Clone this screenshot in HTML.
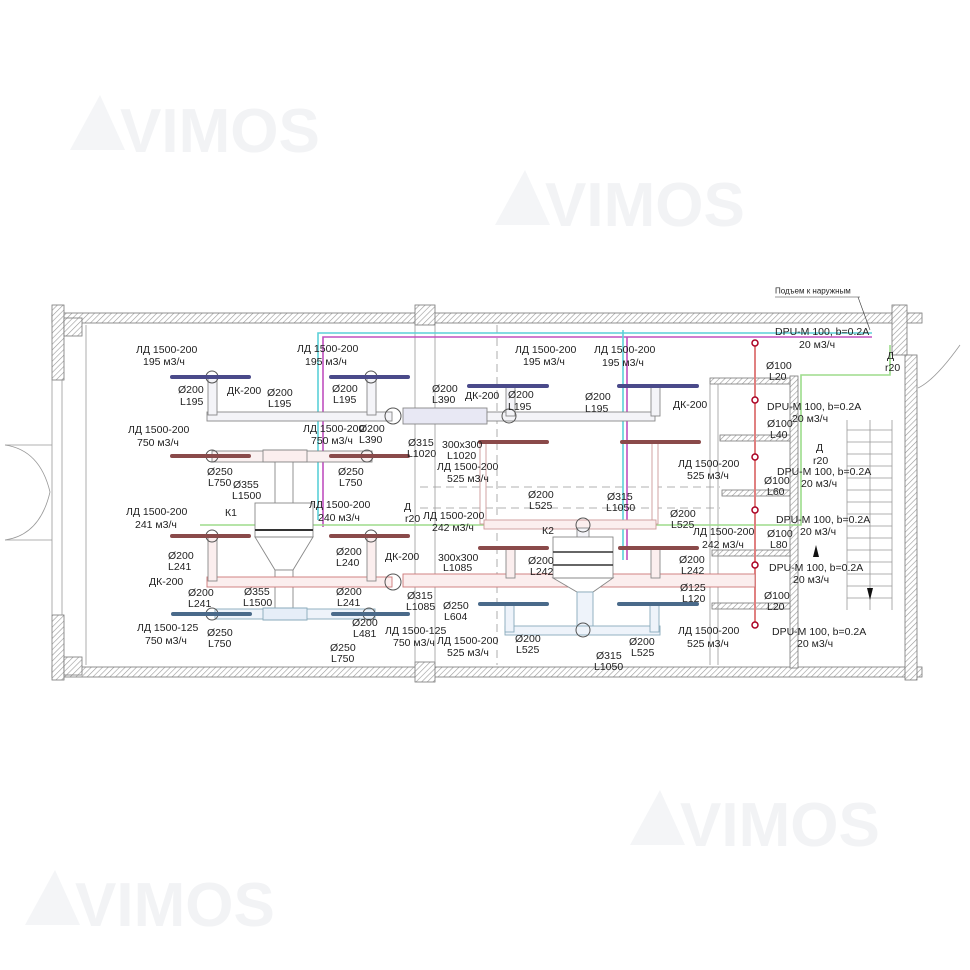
<!DOCTYPE html>
<html><head><meta charset="utf-8"><style>
html,body{margin:0;padding:0;background:#fff;}
svg{display:block}
text{font-family:"Liberation Sans",sans-serif;font-size:10.5px;fill:#222;dominant-baseline:central}
.wm{font-size:62px;fill:#f2f3f5;font-weight:bold;dominant-baseline:auto}
</style></head><body>
<svg width="970" height="970" viewBox="0 0 970 970" xmlns="http://www.w3.org/2000/svg">
<defs>
<pattern id="h" width="4" height="4" patternUnits="userSpaceOnUse" patternTransform="rotate(45)"><rect width="4" height="4" fill="#fff"/><line x1="0" y1="0" x2="0" y2="4" stroke="#999" stroke-width="1.2"/></pattern>
</defs>
<g>
<polygon points="70,150 100,95 125,150" fill="#f4f5f7"/><text class="wm" x="120" y="152">VIMOS</text>
<polygon points="495,225 525,170 550,225" fill="#f4f5f7"/><text class="wm" x="545" y="226">VIMOS</text>
<polygon points="630,845 660,790 685,845" fill="#f4f5f7"/><text class="wm" x="680" y="846">VIMOS</text>
<polygon points="25,925 55,870 80,925" fill="#f4f5f7"/><text class="wm" x="75" y="926">VIMOS</text>
</g>
<g stroke="#777" stroke-width="0.8">
<rect x="52" y="313" width="870" height="10" fill="url(#h)"/>
<rect x="52" y="667" width="870" height="10" fill="url(#h)"/>
<rect x="52" y="305" width="12" height="75" fill="url(#h)"/>
<rect x="52" y="615" width="12" height="65" fill="url(#h)"/>
<rect x="64" y="318" width="18" height="18" fill="url(#h)"/>
<rect x="64" y="657" width="18" height="18" fill="url(#h)"/>
<rect x="415" y="305" width="20" height="20" fill="url(#h)"/>
<rect x="415" y="662" width="20" height="20" fill="url(#h)"/>
<rect x="892" y="305" width="15" height="50" fill="url(#h)"/>
<rect x="905" y="355" width="12" height="325" fill="url(#h)"/>
<rect x="790" y="376" width="8" height="292" fill="url(#h)"/>
<rect x="710" y="378" width="80" height="6" fill="url(#h)"/>
<rect x="720" y="435" width="70" height="6" fill="url(#h)"/>
<rect x="722" y="490" width="68" height="6" fill="url(#h)"/>
<rect x="712" y="550" width="78" height="6" fill="url(#h)"/>
<rect x="712" y="603" width="78" height="6" fill="url(#h)"/>
</g>
<g fill="none" stroke="#999" stroke-width="0.8">
<line x1="52" y1="380" x2="52" y2="615"/><line x1="62" y1="380" x2="62" y2="615"/>
<line x1="86" y1="325" x2="86" y2="665"/>
<line x1="415" y1="325" x2="415" y2="662"/><line x1="435" y1="325" x2="435" y2="662"/>
<path d="M5,445 Q40,450 50,492 Q40,535 5,540"/><line x1="5" y1="445" x2="52" y2="445"/><line x1="5" y1="540" x2="52" y2="540"/>
<path d="M960,345 Q935,380 918,388"/>
<line x1="847" y1="420" x2="847" y2="610"/><line x1="892" y1="420" x2="892" y2="610"/><line x1="870" y1="420" x2="870" y2="610"/>
<path d="M847,430h45M847,442h45M847,454h45M847,466h45M847,478h45M847,490h45M847,502h45M847,514h45M847,526h45M847,538h45M847,550h45M847,562h45M847,574h45M847,586h45M847,598h45"/>
<line x1="710" y1="384" x2="710" y2="665"/><line x1="718" y1="384" x2="718" y2="665"/>
</g>
<g stroke="#999" stroke-dasharray="8,5" fill="none" stroke-width="0.8">
<path d="M420,487H720M420,508H720"/><line x1="497" y1="325" x2="497" y2="665"/>
</g>
<g fill="none" stroke-width="1.6">
<path d="M318,520V333H872" stroke="#5cd0d8"/>
<path d="M323,527V337H872" stroke="#c050c0"/>
<path d="M623,560V330" stroke="#5cd0d8"/>
<path d="M627,560V337" stroke="#c050c0"/>
<path d="M200,525H801V375H890V345" stroke="#9ddc8c"/>
<path d="M755,343V625" stroke="#e08080" stroke-width="2"/>
</g>
<g fill="#fff" stroke="#a02" stroke-width="1.5">
<circle cx="755" cy="343" r="3"/><circle cx="755" cy="400" r="3"/><circle cx="755" cy="457" r="3"/><circle cx="755" cy="510" r="3"/><circle cx="755" cy="565" r="3"/><circle cx="755" cy="625" r="3"/>
</g>
<g stroke="#888" stroke-width="0.9" fill="#f4f4f8">
<rect x="207" y="412" width="185" height="9"/>
<rect x="403" y="408" width="84" height="16" fill="#e8e8f4"/>
<rect x="487" y="412" width="168" height="9"/>
<rect x="208" y="377" width="9" height="38"/><rect x="367" y="377" width="9" height="38"/>
<rect x="506" y="386" width="9" height="30"/><rect x="651" y="386" width="9" height="30"/>
<rect x="212" y="451" width="160" height="11" fill="#faf0f0"/>
<path d="M263,450h44v12h-44z" fill="#fbeeee"/>
<rect x="275" y="462" width="18" height="43" fill="#fff"/>
<rect x="255" y="503" width="58" height="34" fill="#fff"/>
<path d="M255,537H313L293,570H275Z" fill="#fff"/>
<rect x="275" y="570" width="18" height="44" fill="#fff"/>
<rect x="207" y="577" width="185" height="10" fill="#fbeeee" stroke="#c77"/>
<rect x="403" y="574" width="352" height="13" fill="#fbeeee" stroke="#c77"/>
<rect x="208" y="536" width="9" height="45" fill="#fbeeee"/>
<rect x="367" y="536" width="9" height="45" fill="#fbeeee"/>
<rect x="506" y="548" width="9" height="30" fill="#fbeeee"/><rect x="651" y="548" width="9" height="30" fill="#fbeeee"/>
<rect x="215" y="609" width="160" height="10" fill="#eef3fa" stroke="#8ab"/>
<path d="M263,608h44v12h-44z" fill="#e6eef8" stroke="#8ab"/>
<rect x="480" y="442" width="6" height="82" fill="#fff" stroke="#c99"/>
<rect x="652" y="442" width="6" height="82" fill="#fff" stroke="#c99"/>
<rect x="484" y="520" width="172" height="9" fill="#fbeeee" stroke="#c99"/>
<rect x="577" y="528" width="12" height="10"/>
<rect x="553" y="537" width="60" height="41" fill="#fff"/>
<path d="M553,578H613L593,592H577Z" fill="#fff"/>
<rect x="577" y="592" width="16" height="36" fill="#eef3fa" stroke="#8ab"/>
<rect x="505" y="626" width="155" height="9" fill="#eef3fa" stroke="#8ab"/>
<rect x="505" y="604" width="9" height="28" fill="#eef3fa" stroke="#8ab"/><rect x="650" y="604" width="9" height="28" fill="#eef3fa" stroke="#8ab"/>
</g>
<g fill="none" stroke="#555" stroke-width="1">
<circle cx="393" cy="416" r="8"/><circle cx="393" cy="582" r="8"/><circle cx="509" cy="416" r="7"/>
<circle cx="583" cy="525" r="7"/><circle cx="583" cy="630" r="7"/>
<circle cx="212" cy="377" r="6"/><circle cx="371" cy="377" r="6"/><circle cx="212" cy="456" r="6"/><circle cx="367" cy="456" r="6"/>
<circle cx="212" cy="536" r="6"/><circle cx="371" cy="536" r="6"/><circle cx="212" cy="614" r="6"/><circle cx="369" cy="614" r="6"/>
<line x1="255" y1="530" x2="313" y2="530" stroke="#333" stroke-width="2"/>
<line x1="553" y1="552" x2="613" y2="552" stroke="#333" stroke-width="1.5"/><line x1="553" y1="565" x2="613" y2="565" stroke="#333" stroke-width="1.5"/>
</g>
<g stroke-width="4" stroke-linecap="round">
<g stroke="#4a4a8a"><line x1="172" y1="377" x2="249" y2="377"/><line x1="331" y1="377" x2="408" y2="377"/><line x1="469" y1="386" x2="547" y2="386"/><line x1="619" y1="386" x2="697" y2="386"/></g>
<g stroke="#8a4a4a"><line x1="172" y1="456" x2="249" y2="456"/><line x1="331" y1="456" x2="408" y2="456"/><line x1="480" y1="442" x2="547" y2="442"/><line x1="622" y1="442" x2="699" y2="442"/>
<line x1="172" y1="536" x2="249" y2="536"/><line x1="331" y1="536" x2="408" y2="536"/><line x1="480" y1="548" x2="547" y2="548"/><line x1="620" y1="548" x2="697" y2="548"/></g>
<g stroke="#4a6a8a"><line x1="173" y1="614" x2="250" y2="614"/><line x1="333" y1="614" x2="408" y2="614"/><line x1="480" y1="604" x2="547" y2="604"/><line x1="619" y1="604" x2="697" y2="604"/></g>
</g>
<g>
<text x="775" y="291" style="font-size:8px">Подъем к наружным</text>
<line x1="775" y1="297" x2="860" y2="297" stroke="#333" stroke-width="0.6"/>
<line x1="858" y1="297" x2="870" y2="330" stroke="#333" stroke-width="0.6"/>
<text x="136" y="350">ЛД 1500-200</text><text x="143" y="362">195 м3/ч</text>
<text x="178" y="390">Ø200</text><text x="180" y="402">L195</text>
<text x="227" y="391">ДК-200</text>
<text x="267" y="393">Ø200</text><text x="268" y="404">L195</text>
<text x="297" y="349">ЛД 1500-200</text><text x="305" y="362">195 м3/ч</text>
<text x="332" y="389">Ø200</text><text x="333" y="400">L195</text>
<text x="432" y="389">Ø200</text><text x="432" y="400">L390</text>
<text x="465" y="396">ДК-200</text>
<text x="515" y="350">ЛД 1500-200</text><text x="523" y="362">195 м3/ч</text>
<text x="508" y="395">Ø200</text><text x="508" y="407">L195</text>
<text x="594" y="350">ЛД 1500-200</text><text x="602" y="363">195 м3/ч</text>
<text x="585" y="397">Ø200</text><text x="585" y="409">L195</text>
<text x="673" y="405">ДК-200</text>
<text x="128" y="430">ЛД 1500-200</text><text x="137" y="443">750 м3/ч</text>
<text x="303" y="429">ЛД 1500-200</text><text x="311" y="441">750 м3/ч</text>
<text x="359" y="429">Ø200</text><text x="359" y="440">L390</text>
<text x="408" y="443">Ø315</text><text x="407" y="454">L1020</text>
<text x="442" y="445">300x300</text><text x="447" y="456">L1020</text>
<text x="437" y="467">ЛД 1500-200</text><text x="447" y="479">525 м3/ч</text>
<text x="207" y="472">Ø250</text><text x="208" y="483">L750</text>
<text x="338" y="472">Ø250</text><text x="339" y="483">L750</text>
<text x="233" y="485">Ø355</text><text x="232" y="496">L1500</text>
<text x="126" y="512">ЛД 1500-200</text><text x="135" y="525">241 м3/ч</text>
<text x="225" y="513">К1</text>
<text x="309" y="505">ЛД 1500-200</text><text x="318" y="518">240 м3/ч</text>
<text x="404" y="507">Д</text><text x="405" y="519">r20</text>
<text x="423" y="516">ЛД 1500-200</text><text x="432" y="528">242 м3/ч</text>
<text x="168" y="556">Ø200</text><text x="168" y="567">L241</text>
<text x="149" y="582">ДК-200</text>
<text x="188" y="593">Ø200</text><text x="188" y="604">L241</text>
<text x="244" y="592">Ø355</text><text x="243" y="603">L1500</text>
<text x="336" y="552">Ø200</text><text x="336" y="563">L240</text>
<text x="385" y="557">ДК-200</text>
<text x="438" y="558">300x300</text><text x="443" y="568">L1085</text>
<text x="336" y="592">Ø200</text><text x="337" y="603">L241</text>
<text x="407" y="596">Ø315</text><text x="406" y="607">L1085</text>
<text x="443" y="606">Ø250</text><text x="444" y="617">L604</text>
<text x="137" y="628">ЛД 1500-125</text><text x="145" y="641">750 м3/ч</text>
<text x="207" y="633">Ø250</text><text x="208" y="644">L750</text>
<text x="352" y="623">Ø200</text><text x="353" y="634">L481</text>
<text x="385" y="631">ЛД 1500-125</text><text x="393" y="643">750 м3/ч</text>
<text x="330" y="648">Ø250</text><text x="331" y="659">L750</text>
<text x="437" y="641">ЛД 1500-200</text><text x="447" y="653">525 м3/ч</text>
<text x="775" y="332">DPU-M 100, b=0.2A</text><text x="799" y="345">20 м3/ч</text>
<text x="766" y="366">Ø100</text><text x="769" y="377">L20</text>
<text x="887" y="356">Д</text><text x="885" y="368">r20</text>
<text x="767" y="407">DPU-M 100, b=0.2A</text><text x="792" y="419">20 м3/ч</text>
<text x="767" y="424">Ø100</text><text x="770" y="435">L40</text>
<text x="816" y="448">Д</text><text x="813" y="461">r20</text>
<text x="777" y="472">DPU-M 100, b=0.2A</text><text x="801" y="484">20 м3/ч</text>
<text x="764" y="481">Ø100</text><text x="767" y="492">L60</text>
<text x="776" y="520">DPU-M 100, b=0.2A</text><text x="800" y="532">20 м3/ч</text>
<text x="767" y="534">Ø100</text><text x="770" y="545">L80</text>
<text x="769" y="568">DPU-M 100, b=0.2A</text><text x="793" y="580">20 м3/ч</text>
<text x="764" y="596">Ø100</text><text x="767" y="607">L20</text>
<text x="772" y="632">DPU-M 100, b=0.2A</text><text x="797" y="644">20 м3/ч</text>
<text x="678" y="464">ЛД 1500-200</text><text x="687" y="476">525 м3/ч</text>
<text x="528" y="495">Ø200</text><text x="529" y="506">L525</text>
<text x="607" y="497">Ø315</text><text x="606" y="508">L1050</text>
<text x="670" y="514">Ø200</text><text x="671" y="525">L525</text>
<text x="542" y="531">К2</text>
<text x="693" y="532">ЛД 1500-200</text><text x="702" y="545">242 м3/ч</text>
<text x="528" y="561">Ø200</text><text x="530" y="572">L242</text>
<text x="679" y="560">Ø200</text><text x="681" y="571">L242</text>
<text x="680" y="588">Ø125</text><text x="682" y="599">L120</text>
<text x="678" y="631">ЛД 1500-200</text><text x="687" y="644">525 м3/ч</text>
<text x="515" y="639">Ø200</text><text x="516" y="650">L525</text>
<text x="629" y="642">Ø200</text><text x="631" y="653">L525</text>
<text x="596" y="656">Ø315</text><text x="594" y="667">L1050</text>
</g>
<path d="M816,545l-3,12h6z M870,600l-3,-12h6z" fill="#111"/>
</svg>
</body></html>
